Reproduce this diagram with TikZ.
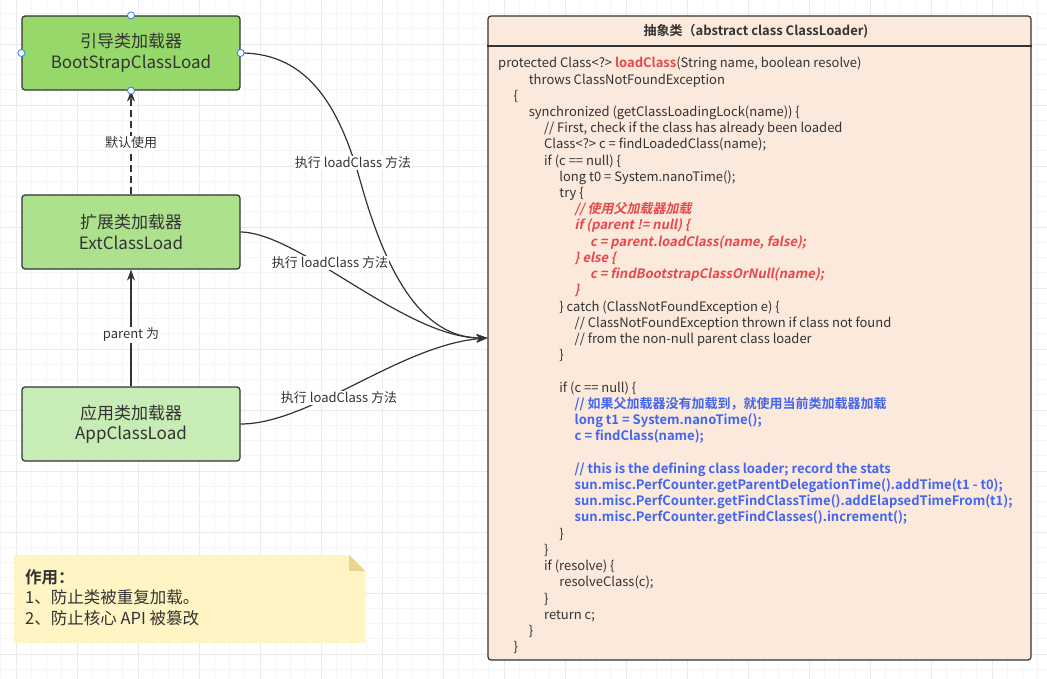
\documentclass[tikz,border=0pt]{standalone}
\usepackage{fontspec}
\setmainfont{Noto Sans CJK SC}[BoldFont={Noto Sans CJK SC Bold}]
\newfontfamily\redfont{Noto Sans CJK SC Bold}[FakeSlant=0.2]
\usetikzlibrary{arrows.meta}
\definecolor{txt}{HTML}{333333}
\definecolor{gminor}{HTML}{F5F5F5}
\definecolor{gmajor}{HTML}{EBEBEB}
\definecolor{bootfill}{HTML}{97D86B}
\definecolor{extfill}{HTML}{ADE18D}
\definecolor{appfill}{HTML}{C8ECB5}
\definecolor{codefill}{HTML}{FBE9DB}
\definecolor{notefill}{HTML}{FFF4C3}
\definecolor{notefold}{HTML}{E8D58E}
\definecolor{redc}{HTML}{E8484B}
\definecolor{bluec}{HTML}{4466EE}
\definecolor{handle}{HTML}{2F7CF6}
\newcommand\codeln[4]{\node[codeline,#3] (c#1) at ({498+15.3*#2},{67.8+16.22*#1}) {#4};}
\begin{document}
\begin{tikzpicture}[x=1pt,y=-1pt,
  box/.style={draw=txt,line width=1.2pt,rounded corners=3pt,minimum width=218pt,minimum height=74pt,align=center,text=txt,font=\fontsize{17}{20.5}\selectfont},
  lbl/.style={fill=white,inner sep=1pt,text=txt,font=\fontsize{13}{15}\selectfont},
  edge/.style={draw=txt,line width=1.2pt,-{Stealth[length=11pt,width=8pt]}},
  codeline/.style={anchor=base west,inner sep=0pt,text=txt,font=\fontsize{13}{16}\selectfont},
  rd/.style={text=redc,font=\fontsize{13}{16}\redfont},
  bl/.style={text=bluec,font=\fontsize{13}{16}\selectfont\bfseries},
  notetxt/.style={anchor=base west,inner sep=0pt,text=txt,font=\fontsize{16.5}{20}\selectfont},
  handlept/.style={circle,draw=handle,fill=white,line width=0.8pt,minimum size=7pt,inner sep=0pt}]
\useasboundingbox (0,0) rectangle (1047,679);
\fill[white] (0,0) rectangle (1047,679);
% grid
\foreach \i in {0,...,69} {\draw[gminor,line width=0.8pt] ({0.75+15.25*\i},0) -- ({0.75+15.25*\i},679);}
\foreach \i in {0,...,45} {\draw[gminor,line width=0.8pt] (0,{-1.75+15.25*\i}) -- (1047,{-1.75+15.25*\i});}
\foreach \i in {0,...,17} {\draw[gmajor,line width=0.9pt] ({16+61*\i},0) -- ({16+61*\i},679);}
\foreach \i in {0,...,10} {\draw[gmajor,line width=0.9pt] (0,{44+61*\i}) -- (1047,{44+61*\i});}

% left nodes
\node[box,fill=bootfill] (boot) at (131,53) {引导类加载器\\BootStrapClassLoad};
\node[box,fill=extfill] (ext) at (131,232) {扩展类加载器\\ExtClassLoad};
\node[box,fill=appfill] (app) at (131,424) {应用类加载器\\AppClassLoad};

% code box
\node[draw=txt,line width=1.2pt,rounded corners=3pt,fill=codefill,minimum width=543pt,minimum height=644pt,inner sep=0pt] (code) at (759.5,338) {};
\draw[txt,line width=1.2pt] (code.west |- 0,46) coordinate (hl) -- (code.east |- 0,46) coordinate (hr);
\node[text=txt,font=\fontsize{13}{16}\selectfont\bfseries] (hdr) at (756,31) {抽象类（abstract class ClassLoader)};

% vertical arrows
\draw[edge,dashed,dash pattern=on 7pt off 4pt] (ext.north) -- (boot.south);
\node[lbl] (l1) at (131,143) {默认使用};
\draw[edge] (app.north) -- (ext.south);
\node[lbl] (l2) at (131,335) {parent 为};

% curves
\draw[edge] (boot.east) .. controls (310,53) and (340,110) .. (360,180) .. controls (385,270) and (420,338) .. (code.west);
\draw[edge] (ext.east) .. controls (300,233) and (405,338) .. (code.west);
\draw[edge] (app.east) .. controls (310,424) and (400,345) .. (code.west);
\node[lbl] (e1) at (353,163) {执行 loadClass 方法};
\node[lbl] (e2) at (330,263) {执行 loadClass 方法};
\node[lbl] (e3) at (339,398) {执行 loadClass 方法};

% handles
\node[handlept] (h1) at (boot.north) {};
\node[handlept] (h2) at (boot.south) {};
\node[handlept] (h3) at (boot.west) {};
\node[handlept] (h4) at (boot.east) {};

% code lines
\codeln{0}{0}{}{protected Class<?> \textcolor{redc}{\bfseries loadClass}(String name, boolean resolve)}
\codeln{1}{2}{}{throws ClassNotFoundException}
\codeln{2}{1}{}{\{}
\codeln{3}{2}{}{synchronized (getClassLoadingLock(name)) \{}
\codeln{4}{3}{}{// First, check if the class has already been loaded}
\codeln{5}{3}{}{Class<?> c = findLoadedClass(name);}
\codeln{6}{3}{}{if (c == null) \{}
\codeln{7}{4}{}{long t0 = System.nanoTime();}
\codeln{8}{4}{}{try \{}
\codeln{9}{5}{rd}{// 使用父加载器加载}
\codeln{10}{5}{rd}{if (parent != null) \{}
\codeln{11}{6}{rd}{c = parent.loadClass(name, false);}
\codeln{12}{5}{rd}{\} else \{}
\codeln{13}{6}{rd}{c = findBootstrapClassOrNull(name);}
\codeln{14}{5}{rd}{\}}
\codeln{15}{4}{}{\} catch (ClassNotFoundException e) \{}
\codeln{16}{5}{}{// ClassNotFoundException thrown if class not found}
\codeln{17}{5}{}{// from the non-null parent class loader}
\codeln{18}{4}{}{\}}
\codeln{20}{4}{}{if (c == null) \{}
\codeln{21}{5}{bl}{// 如果父加载器没有加载到，就使用当前类加载器加载}
\codeln{22}{5}{bl}{long t1 = System.nanoTime();}
\codeln{23}{5}{bl}{c = findClass(name);}
\codeln{25}{5}{bl}{// this is the defining class loader; record the stats}
\codeln{26}{5}{bl}{sun.misc.PerfCounter.getParentDelegationTime().addTime(t1 - t0);}
\codeln{27}{5}{bl}{sun.misc.PerfCounter.getFindClassTime().addElapsedTimeFrom(t1);}
\codeln{28}{5}{bl}{sun.misc.PerfCounter.getFindClasses().increment();}
\codeln{29}{4}{}{\}}
\codeln{30}{3}{}{\}}
\codeln{31}{3}{}{if (resolve) \{}
\codeln{32}{4}{}{resolveClass(c);}
\codeln{33}{3}{}{\}}
\codeln{34}{3}{}{return c;}
\codeln{35}{2}{}{\}}
\codeln{36}{1}{}{\}}

% note
\fill[notefill] (14,555) -- (349,555) -- (365,571) -- (365,643) -- (14,643) -- cycle;
\fill[notefold] (349,555) -- (365,571) -- (349,571) -- cycle;
\node[notetxt,font=\fontsize{16.5}{20}\selectfont\bfseries] (n1) at (25,583) {作用：};
\node[notetxt] (n2) at (25,603.5) {1、防止类被重复加载。};
\node[notetxt] (n3) at (25,624) {2、防止核心 API 被篡改};
\end{tikzpicture}
\end{document}
